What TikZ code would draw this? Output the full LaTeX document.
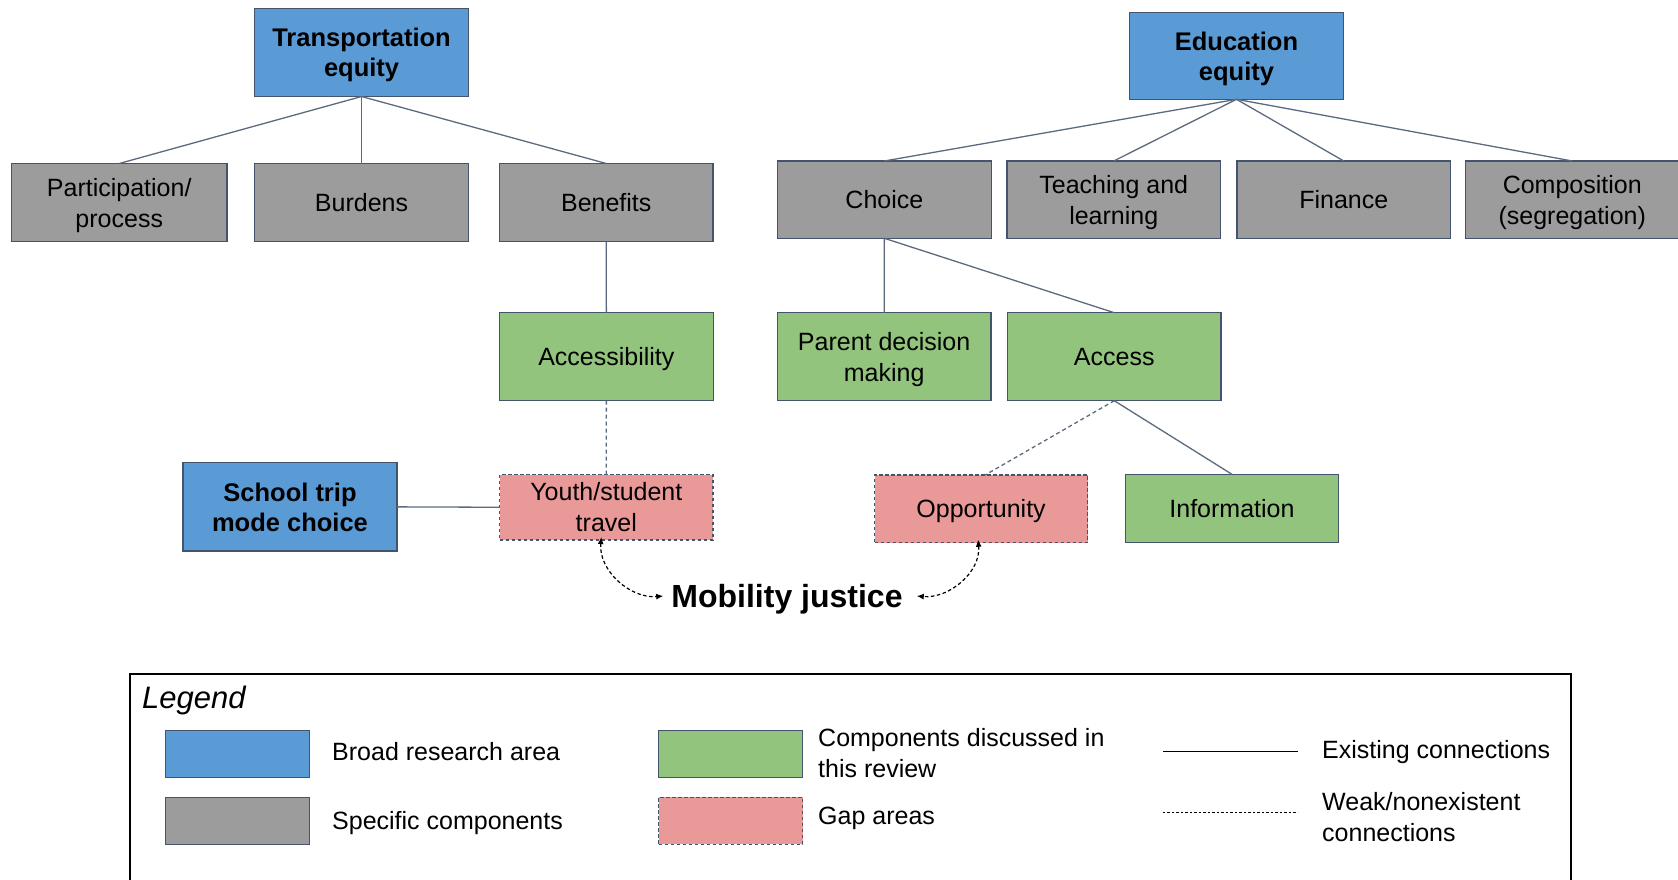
\documentclass[tikz,border=0pt]{standalone}
\usepackage{fontspec}
\setmainfont{Liberation Sans}
\usetikzlibrary{arrows.meta}
\definecolor{cblue}{RGB}{91,155,213}
\definecolor{cgray}{RGB}{156,156,156}
\definecolor{cgreen}{RGB}{147,196,125}
\definecolor{cpink}{RGB}{234,153,153}
\definecolor{cedge}{RGB}{68,84,106}
\definecolor{cline}{RGB}{92,106,126}
\tikzset{
  box/.style={draw=cedge, line width=1.2pt, anchor=north west, inner sep=2pt, outer sep=0pt,
    align=center, font=\fontsize{25}{31}\selectfont, text=black, text depth=0pt},
  bluebox/.style={box, fill=cblue, font=\fontsize{25.5}{30}\selectfont\bfseries},
  graybox/.style={box, fill=cgray},
  greenbox/.style={box, fill=cgreen},
  pinkbox/.style={box, fill=cpink, dash pattern=on 3.5pt off 2.5pt},
  conn/.style={draw=cline, line width=1.3pt},
  weak/.style={conn, dash pattern=on 4pt off 3pt},
  mjarrow/.style={draw=black, line width=1.2pt, dash pattern=on 3.5pt off 2.5pt, {Latex[length=7pt,width=6pt]}-{Latex[length=7pt,width=6pt]}},
  legtext/.style={anchor=west, align=left, inner sep=0pt, font=\fontsize{25}{31}\selectfont},
  legbox/.style={draw=cedge, line width=1.2pt, anchor=north west, minimum width=144pt, minimum height=47pt, inner sep=0pt}
}
\begin{document}
\begin{tikzpicture}[x=1pt,y=-1pt]
\useasboundingbox (0,0) rectangle (1678,879);
\clip (0,0) rectangle (1678,879);
% row 1
\node[bluebox, minimum width=213.5pt, minimum height=88pt] (te) at (254.8,8.5) {Transportation\\equity};
\node[bluebox, minimum width=214pt, minimum height=86.6pt] (ee) at (1129.5,12.7) {Education\\equity};
% row 2
\node[graybox, minimum width=215.5pt, minimum height=78.3pt] (part) at (11.5,163.5) {Participation/\\process};
\node[graybox, minimum width=213.5pt, minimum height=78.3pt] (burd) at (254.8,163.5) {Burdens};
\node[graybox, minimum width=213.5pt, minimum height=78.3pt] (bene) at (499.5,163.5) {Benefits};
\node[graybox, minimum width=213.5pt, minimum height=77.3pt] (choice) at (777.6,161) {Choice};
\node[graybox, minimum width=213.5pt, minimum height=77.3pt] (teach) at (1007,161) {Teaching and\\learning};
\node[graybox, minimum width=213.5pt, minimum height=77.3pt] (fin) at (1237,161) {Finance};
\node[graybox, minimum width=213.5pt, minimum height=77.3pt] (comp) at (1465.5,161) {Composition\\(segregation)};
% row 3
\node[greenbox, minimum width=213.5pt, minimum height=88pt] (acc) at (499.6,312.7) {Accessibility};
\node[greenbox, minimum width=213.5pt, minimum height=88pt] (par) at (777.4,312.7) {Parent decision\\making};
\node[greenbox, minimum width=213.5pt, minimum height=88pt] (access) at (1007.5,312.7) {Access};
% row 4
\node[bluebox, minimum width=214pt, minimum height=88.3pt] (school) at (183,462.7) {School trip\\mode choice};
\node[pinkbox, minimum width=213.2pt, minimum height=65.5pt] (youth) at (499.7,474.5) {Youth/student\\travel};
\node[pinkbox, minimum width=213.2pt, minimum height=67.7pt] (opp) at (874.5,475) {Opportunity};
\node[greenbox, minimum width=213.3pt, minimum height=68.4pt] (info) at (1125.3,474.3) {Information};
% mobility justice
\node[font=\fontsize{32}{36}\selectfont\bfseries, inner xsep=8pt, inner ysep=0pt] (mj) at (787,599) {Mobility justice};
% connectors
\draw[conn] (te.south) -- (part.north);
\draw[conn] (te.south) -- (burd.north);
\draw[conn] (te.south) -- (bene.north);
\draw[conn] (ee.south) -- (choice.north);
\draw[conn] (ee.south) -- (teach.north);
\draw[conn] (ee.south) -- (fin.north);
\draw[conn] (ee.south) -- (comp.north);
\draw[conn] (bene.south) -- (acc.north);
\draw[conn] (choice.south) -- (par.north);
\draw[conn] (choice.south) -- (access.north);
\draw[weak] (acc.south) -- (youth.north);
\draw[weak] (access.south) -- ([xshift=4pt]opp.north);
\draw[conn] (access.south) -- (info.north);
\draw[conn] (school.east) -- (youth.west);
\draw[mjarrow] ([xshift=-5pt,yshift=3pt]youth.south) to[out=-95,in=185] ([yshift=3pt]mj.west);
\draw[mjarrow] ([xshift=-3pt,yshift=3pt]opp.south) to[out=-85,in=-5] ([xshift=6pt,yshift=3pt]mj.east);
% legend
\node[draw=black, line width=1.3pt, anchor=north west, minimum width=1441pt, minimum height=260pt, inner sep=0pt] (legend) at (129.3,673.3) {};
\node[anchor=west, inner sep=0pt, font=\fontsize{31}{36}\selectfont\itshape] (legt) at (142,700) {Legend};
\node[legbox, fill=cblue] (lb) at (164.7,730) {};
\node[legbox, fill=cgray] (lg) at (164.7,796.5) {};
\node[legbox, fill=cgreen] (lgr) at (658,730) {};
\node[legbox, fill=cpink, dash pattern=on 3.5pt off 2.5pt] (lp) at (658,796.5) {};
\node[legtext] (tb) at (332,751.7) {Broad research area};
\node[legtext] (tg) at (332,822.7) {Specific components};
\node[legtext] (tgr) at (818,753.3) {Components discussed in\\this review};
\node[legtext] (tp) at (818,818.3) {Gap areas};
\coordinate (ls1) at (1162.8,751.7);
\coordinate (ls2) at (1297.8,751.7);
\coordinate (ld1) at (1162.8,812.7);
\coordinate (ld2) at (1297.8,812.7);
\draw[draw=black, line width=1.2pt] (ls1) -- (ls2);
\draw[draw=black, line width=1.2pt, dash pattern=on 2.5pt off 2pt] (ld1) -- (ld2);
\node[legtext] (te1) at (1322,751.7) {Existing connections};
\node[legtext] (te2) at (1322,816.7) {Weak/nonexistent\\connections};
\end{tikzpicture}
\end{document}
